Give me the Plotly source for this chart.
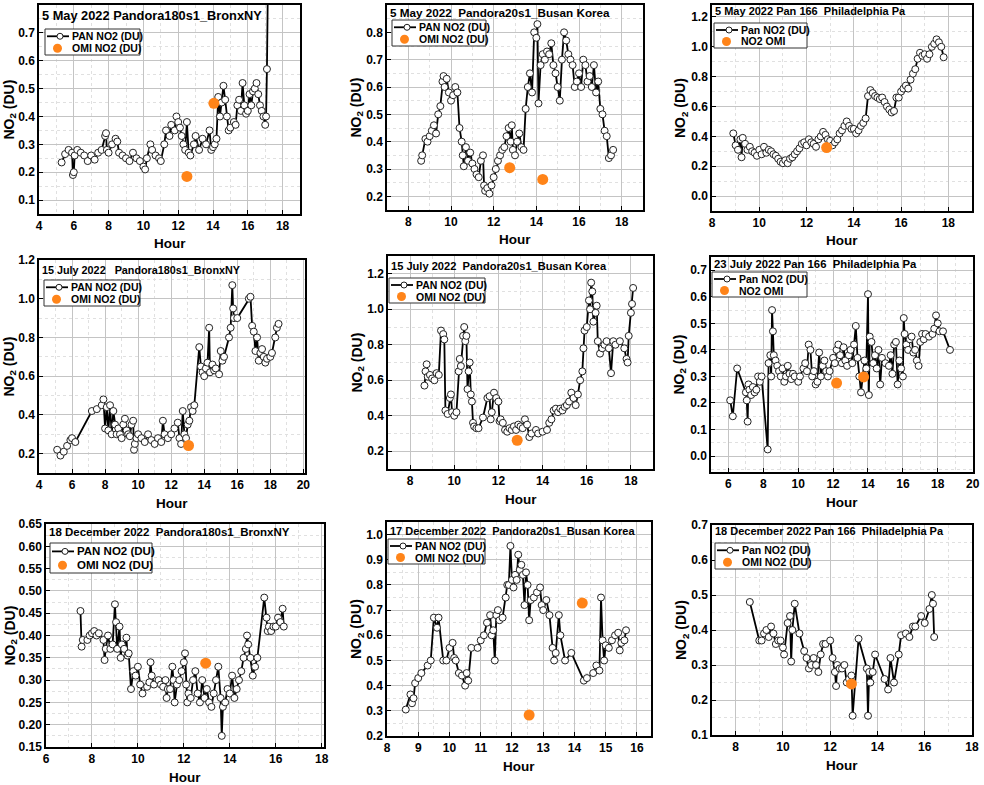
import plotly.graph_objects as go

W, H = 984, 785

# ---- Pandora (hour, NO2 DU) and OMI overpass values ----
may_bronx_pan = [
    (5.3, 0.235), (5.5, 0.265), (5.7, 0.28), (5.9, 0.27), (5.95, 0.19), (6.0, 0.2), (6.05, 0.26),
    (6.2, 0.28), (6.4, 0.27), (6.6, 0.26), (6.8, 0.24), (7.0, 0.26), (7.2, 0.245), (7.4, 0.27),
    (7.6, 0.28), (7.8, 0.33), (7.85, 0.34), (7.9, 0.28), (8.0, 0.27), (8.2, 0.3), (8.4, 0.32),
    (8.5, 0.31), (8.6, 0.27), (8.8, 0.26), (9.0, 0.25), (9.2, 0.24), (9.4, 0.27), (9.6, 0.25),
    (9.8, 0.24), (10.0, 0.22), (10.1, 0.21), (10.2, 0.25), (10.4, 0.3), (10.5, 0.28), (10.7, 0.26),
    (10.9, 0.25), (11.0, 0.24), (11.2, 0.3), (11.3, 0.35), (11.5, 0.33), (11.6, 0.37), (11.8, 0.35),
    (11.9, 0.4), (12.0, 0.38), (12.1, 0.36), (12.2, 0.33), (12.3, 0.3), (12.4, 0.28), (12.5, 0.38),
    (12.6, 0.27), (12.7, 0.26), (12.9, 0.3), (13.0, 0.33), (13.2, 0.28), (13.4, 0.32), (13.6, 0.3),
    (13.8, 0.35), (13.9, 0.28), (14.0, 0.29), (14.1, 0.3), (14.2, 0.32), (14.3, 0.47), (14.4, 0.4),
    (14.5, 0.45), (14.6, 0.51), (14.7, 0.46), (14.8, 0.4), (14.9, 0.35), (15.0, 0.36), (15.2, 0.38),
    (15.3, 0.37), (15.4, 0.44), (15.5, 0.46), (15.6, 0.42), (15.7, 0.52), (15.8, 0.44), (15.9, 0.41),
    (16.0, 0.42), (16.1, 0.48), (16.2, 0.44), (16.3, 0.49), (16.4, 0.5), (16.5, 0.52), (16.6, 0.48),
    (16.7, 0.44), (16.8, 0.42), (16.9, 0.4), (17.0, 0.37), (17.05, 0.4), (17.1, 0.57), (17.15, 0.85),
]
may_bronx_omi = [(12.5, 0.185), (14.05, 0.447)]

may_busan_pan = [
    (8.6, 0.33), (8.65, 0.35), (8.8, 0.41), (8.9, 0.4), (9.0, 0.42), (9.1, 0.44), (9.2, 0.46),
    (9.3, 0.43), (9.4, 0.5), (9.5, 0.53), (9.6, 0.62), (9.65, 0.64), (9.7, 0.6), (9.8, 0.63),
    (9.9, 0.58), (10.0, 0.55), (10.1, 0.57), (10.2, 0.6), (10.3, 0.58), (10.4, 0.45), (10.5, 0.4),
    (10.55, 0.35), (10.6, 0.31), (10.7, 0.38), (10.8, 0.33), (10.9, 0.36), (11.0, 0.32), (11.1, 0.3),
    (11.2, 0.28), (11.3, 0.27), (11.4, 0.33), (11.5, 0.35), (11.55, 0.24), (11.6, 0.22), (11.7, 0.23),
    (11.8, 0.21), (11.9, 0.24), (12.0, 0.27), (12.1, 0.3), (12.2, 0.33), (12.3, 0.35), (12.4, 0.37),
    (12.5, 0.38), (12.6, 0.42), (12.7, 0.45), (12.8, 0.4), (12.85, 0.46), (12.9, 0.37), (13.0, 0.35),
    (13.1, 0.4), (13.2, 0.43), (13.3, 0.38), (13.4, 0.37), (13.5, 0.52), (13.6, 0.6), (13.7, 0.65),
    (13.8, 0.58), (13.9, 0.8), (14.0, 0.78), (14.05, 0.83), (14.1, 0.54), (14.2, 0.68), (14.3, 0.72),
    (14.4, 0.7), (14.5, 0.73), (14.6, 0.72), (14.7, 0.76), (14.8, 0.68), (14.9, 0.65), (15.0, 0.6),
    (15.1, 0.55), (15.2, 0.7), (15.3, 0.8), (15.4, 0.77), (15.5, 0.72), (15.6, 0.7), (15.7, 0.68),
    (15.8, 0.6), (15.9, 0.62), (16.0, 0.65), (16.1, 0.6), (16.2, 0.7), (16.3, 0.68), (16.4, 0.62),
    (16.5, 0.64), (16.6, 0.6), (16.7, 0.68), (16.8, 0.58), (16.9, 0.62), (17.0, 0.52), (17.1, 0.5),
    (17.2, 0.44), (17.3, 0.42), (17.4, 0.34), (17.5, 0.35), (17.6, 0.37),
]
may_busan_omi = [(12.75, 0.305), (14.3, 0.262)]

may_philly_pan = [
    (8.9, 0.42), (9.0, 0.34), (9.1, 0.31), (9.2, 0.38), (9.25, 0.26), (9.3, 0.39), (9.4, 0.35),
    (9.5, 0.31), (9.6, 0.33), (9.7, 0.3), (9.8, 0.29), (9.9, 0.27), (10.0, 0.31), (10.1, 0.28),
    (10.2, 0.33), (10.3, 0.29), (10.4, 0.31), (10.5, 0.3), (10.6, 0.28), (10.7, 0.27), (10.8, 0.25),
    (10.9, 0.23), (11.0, 0.22), (11.1, 0.24), (11.2, 0.22), (11.3, 0.25), (11.4, 0.26), (11.5, 0.28),
    (11.6, 0.3), (11.7, 0.32), (11.8, 0.35), (11.9, 0.36), (12.0, 0.34), (12.1, 0.38), (12.2, 0.36),
    (12.3, 0.35), (12.4, 0.33), (12.5, 0.38), (12.6, 0.4), (12.7, 0.43), (12.8, 0.41), (12.9, 0.38),
    (13.0, 0.37), (13.1, 0.34), (13.2, 0.36), (13.3, 0.38), (13.4, 0.42), (13.5, 0.44), (13.6, 0.47),
    (13.7, 0.5), (13.8, 0.47), (13.9, 0.45), (14.0, 0.45), (14.1, 0.42), (14.2, 0.44), (14.3, 0.47),
    (14.4, 0.49), (14.5, 0.52), (14.6, 0.67), (14.7, 0.71), (14.8, 0.69), (14.9, 0.67), (15.0, 0.66),
    (15.1, 0.65), (15.2, 0.66), (15.3, 0.63), (15.4, 0.6), (15.5, 0.58), (15.6, 0.56), (15.7, 0.57),
    (15.8, 0.66), (15.9, 0.66), (16.0, 0.7), (16.1, 0.72), (16.2, 0.74), (16.3, 0.72), (16.4, 0.78),
    (16.5, 0.82), (16.6, 0.85), (16.7, 0.92), (16.8, 0.96), (16.9, 0.94), (17.0, 0.95), (17.1, 0.92),
    (17.2, 0.95), (17.3, 1.0), (17.4, 1.02), (17.5, 1.05), (17.6, 1.03), (17.7, 1.0), (17.8, 0.93),
]
may_philly_omi = [(12.85, 0.325)]

jul_bronx_pan = [
    (5.1, 0.22), (5.3, 0.19), (5.5, 0.21), (5.7, 0.24), (5.9, 0.27), (6.0, 0.28), (6.2, 0.26),
    (7.2, 0.42), (7.5, 0.43), (7.8, 0.45), (7.9, 0.48), (8.0, 0.33), (8.1, 0.44), (8.2, 0.32),
    (8.3, 0.45), (8.4, 0.3), (8.5, 0.42), (8.6, 0.35), (8.7, 0.3), (8.8, 0.33), (8.9, 0.3),
    (9.0, 0.28), (9.1, 0.35), (9.2, 0.38), (9.3, 0.32), (9.4, 0.3), (9.5, 0.29), (9.6, 0.35),
    (9.7, 0.37), (9.75, 0.22), (9.8, 0.25), (9.9, 0.28), (10.0, 0.3), (10.2, 0.28), (10.4, 0.26),
    (10.6, 0.3), (10.8, 0.27), (11.0, 0.25), (11.2, 0.28), (11.4, 0.26), (11.5, 0.37), (11.6, 0.3),
    (11.8, 0.28), (12.0, 0.3), (12.2, 0.33), (12.4, 0.36), (12.5, 0.28), (12.6, 0.25), (12.7, 0.42),
    (12.8, 0.3), (12.9, 0.28), (13.0, 0.35), (13.1, 0.37), (13.2, 0.44), (13.3, 0.42), (13.4, 0.45),
    (13.7, 0.75), (13.8, 0.65), (13.9, 0.62), (14.0, 0.6), (14.1, 0.64), (14.2, 0.67), (14.3, 0.85),
    (14.35, 0.62), (14.5, 0.66), (14.6, 0.63), (14.7, 0.64), (14.9, 0.61), (15.0, 0.73), (15.1, 0.68),
    (15.2, 0.7), (15.5, 0.8), (15.6, 0.85), (15.7, 1.07), (15.75, 0.95), (15.8, 0.9), (16.0, 0.9),
    (16.7, 1.0), (16.8, 1.01), (16.9, 0.86), (17.0, 0.83), (17.1, 0.73), (17.2, 0.8), (17.3, 0.68),
    (17.4, 0.72), (17.5, 0.74), (17.6, 0.7), (17.7, 0.67), (17.8, 0.69), (18.0, 0.7), (18.1, 0.72),
    (18.3, 0.8), (18.4, 0.85), (18.5, 0.87),
]
jul_bronx_omi = [(13.05, 0.242)]

jul_busan_pan = [
    (8.65, 0.57), (8.7, 0.65), (8.75, 0.69), (8.8, 0.62), (8.9, 0.63), (9.0, 0.61), (9.1, 0.6),
    (9.2, 0.64), (9.3, 0.63), (9.4, 0.88), (9.5, 0.86), (9.55, 0.83), (9.6, 0.43), (9.7, 0.41),
    (9.8, 0.5), (9.85, 0.52), (9.9, 0.42), (10.0, 0.4), (10.1, 0.42), (10.2, 0.65), (10.25, 0.72),
    (10.3, 0.68), (10.4, 0.85), (10.45, 0.9), (10.5, 0.82), (10.55, 0.85), (10.6, 0.55), (10.65, 0.65),
    (10.7, 0.7), (10.75, 0.52), (10.8, 0.48), (10.85, 0.36), (10.9, 0.34), (11.0, 0.33), (11.1, 0.33),
    (11.3, 0.39), (11.5, 0.5), (11.6, 0.51), (11.65, 0.38), (11.7, 0.42), (11.8, 0.53), (11.9, 0.5),
    (12.0, 0.48), (12.05, 0.37), (12.1, 0.38), (12.2, 0.36), (12.3, 0.32), (12.4, 0.31), (12.5, 0.33),
    (12.6, 0.32), (12.7, 0.34), (12.8, 0.32), (12.9, 0.35), (13.0, 0.34), (13.1, 0.33), (13.2, 0.38),
    (13.3, 0.35), (13.4, 0.28), (13.5, 0.3), (13.7, 0.32), (13.8, 0.3), (14.0, 0.31), (14.2, 0.32),
    (14.3, 0.36), (14.4, 0.38), (14.5, 0.43), (14.6, 0.44), (14.7, 0.42), (14.8, 0.44), (14.9, 0.43),
    (15.0, 0.45), (15.1, 0.46), (15.2, 0.48), (15.3, 0.53), (15.4, 0.5), (15.5, 0.46), (15.6, 0.52),
    (15.7, 0.6), (15.8, 0.65), (15.85, 0.78), (15.9, 0.88), (16.0, 0.9), (16.1, 1.05), (16.15, 1.0),
    (16.2, 1.15), (16.25, 1.1), (16.3, 0.93), (16.4, 0.98), (16.45, 1.02), (16.5, 0.82), (16.6, 0.75),
    (16.7, 0.78), (16.8, 0.8), (16.9, 0.82), (17.0, 0.78), (17.1, 0.64), (17.2, 0.82), (17.3, 0.8),
    (17.5, 0.82), (17.7, 0.78), (17.8, 0.72), (17.85, 0.7), (17.9, 0.85), (18.0, 0.98), (18.05, 1.03),
    (18.1, 1.12),
]
jul_busan_omi = [(12.85, 0.262)]

jul_philly_pan = [
    (6.1, 0.21), (6.25, 0.15), (6.5, 0.33), (7.0, 0.24), (7.05, 0.21), (7.1, 0.13), (7.15, 0.27),
    (7.2, 0.25), (7.3, 0.23), (7.4, 0.26), (7.5, 0.24), (7.6, 0.25), (7.7, 0.3), (7.8, 0.28),
    (7.9, 0.3), (8.25, 0.025), (8.3, 0.35), (8.4, 0.38), (8.45, 0.3), (8.5, 0.55), (8.55, 0.47),
    (8.6, 0.38), (8.7, 0.36), (8.8, 0.34), (8.9, 0.32), (9.0, 0.3), (9.1, 0.33), (9.2, 0.28),
    (9.3, 0.3), (9.4, 0.34), (9.5, 0.31), (9.6, 0.29), (9.7, 0.31), (9.8, 0.3), (10.0, 0.28),
    (10.1, 0.3), (10.3, 0.33), (10.4, 0.35), (10.5, 0.32), (10.6, 0.42), (10.7, 0.4), (10.8, 0.3),
    (10.9, 0.32), (11.0, 0.27), (11.1, 0.28), (11.2, 0.39), (11.3, 0.3), (11.4, 0.34), (11.5, 0.36),
    (11.6, 0.32), (11.7, 0.3), (11.8, 0.32), (12.0, 0.37), (12.1, 0.35), (12.2, 0.4), (12.3, 0.42),
    (12.4, 0.38), (12.5, 0.35), (12.6, 0.41), (12.7, 0.36), (12.8, 0.34), (12.9, 0.38), (13.0, 0.4),
    (13.1, 0.35), (13.2, 0.42), (13.3, 0.49), (13.4, 0.37), (13.5, 0.3), (13.6, 0.24), (13.7, 0.3),
    (13.8, 0.36), (13.9, 0.33), (14.0, 0.61), (14.05, 0.23), (14.1, 0.45), (14.2, 0.43), (14.3, 0.35),
    (14.4, 0.38), (14.5, 0.33), (14.6, 0.4), (14.7, 0.27), (14.8, 0.37), (15.0, 0.35), (15.2, 0.34),
    (15.3, 0.38), (15.4, 0.31), (15.5, 0.42), (15.6, 0.43), (15.7, 0.27), (15.8, 0.36), (15.9, 0.33),
    (16.0, 0.3), (16.05, 0.52), (16.1, 0.46), (16.2, 0.42), (16.3, 0.4), (16.4, 0.44), (16.5, 0.45),
    (16.6, 0.39), (16.7, 0.4), (16.8, 0.36), (16.9, 0.34), (17.0, 0.43), (17.1, 0.46), (17.2, 0.44),
    (17.3, 0.46), (17.5, 0.45), (17.7, 0.46), (17.8, 0.48), (17.9, 0.53), (18.0, 0.5), (18.1, 0.47),
    (18.3, 0.47), (18.7, 0.4),
]
jul_philly_omi = [(12.2, 0.275), (13.75, 0.298)]

dec_bronx_pan = [
    (7.5, 0.455), (7.55, 0.375), (7.6, 0.39), (7.8, 0.39), (7.9, 0.4), (8.0, 0.405), (8.1, 0.41),
    (8.2, 0.4), (8.3, 0.405), (8.5, 0.39), (8.55, 0.345), (8.6, 0.37), (8.7, 0.4), (8.8, 0.37),
    (8.9, 0.38), (9.0, 0.47), (9.05, 0.43), (9.1, 0.37), (9.2, 0.42), (9.25, 0.35), (9.3, 0.38),
    (9.4, 0.37), (9.5, 0.395), (9.55, 0.355), (9.6, 0.36), (9.7, 0.28), (9.8, 0.32), (9.9, 0.31),
    (10.0, 0.33), (10.1, 0.29), (10.2, 0.27), (10.4, 0.285), (10.5, 0.295), (10.55, 0.34), (10.6, 0.31),
    (10.7, 0.29), (10.9, 0.3), (11.0, 0.29), (11.1, 0.285), (11.2, 0.3), (11.25, 0.26), (11.3, 0.28),
    (11.4, 0.28), (11.5, 0.33), (11.55, 0.3), (11.6, 0.25), (11.7, 0.29), (11.8, 0.3), (11.9, 0.32),
    (12.0, 0.34), (12.05, 0.36), (12.1, 0.29), (12.15, 0.25), (12.2, 0.27), (12.3, 0.26), (12.4, 0.3),
    (12.5, 0.32), (12.6, 0.27), (12.7, 0.25), (12.8, 0.3), (12.9, 0.26), (13.0, 0.28), (13.1, 0.25),
    (13.2, 0.24), (13.3, 0.27), (13.4, 0.3), (13.5, 0.33), (13.6, 0.26), (13.65, 0.175), (13.7, 0.24),
    (13.8, 0.25), (13.9, 0.28), (14.0, 0.27), (14.1, 0.31), (14.2, 0.26), (14.3, 0.28), (14.4, 0.3),
    (14.5, 0.32), (14.6, 0.35), (14.7, 0.37), (14.75, 0.4), (14.8, 0.38), (14.9, 0.35), (15.0, 0.31),
    (15.1, 0.33), (15.2, 0.35), (15.5, 0.485), (15.6, 0.44), (15.65, 0.41), (15.7, 0.42), (15.8, 0.41),
    (15.9, 0.42), (16.0, 0.42), (16.1, 0.44), (16.2, 0.43), (16.3, 0.46), (16.35, 0.42),
]
dec_bronx_omi = [(12.95, 0.338)]

dec_busan_pan = [
    (8.6, 0.305), (8.75, 0.365), (8.8, 0.33), (8.85, 0.35), (8.9, 0.41), (9.0, 0.43), (9.1, 0.45),
    (9.3, 0.48), (9.4, 0.5), (9.5, 0.67), (9.6, 0.63), (9.65, 0.67), (9.8, 0.5), (9.9, 0.5),
    (10.0, 0.55), (10.1, 0.57), (10.15, 0.51), (10.2, 0.5), (10.3, 0.45), (10.4, 0.44), (10.5, 0.4),
    (10.55, 0.45), (10.6, 0.42), (10.7, 0.55), (10.9, 0.55), (11.0, 0.58), (11.1, 0.6), (11.2, 0.65),
    (11.3, 0.68), (11.35, 0.6), (11.4, 0.62), (11.45, 0.5), (11.5, 0.68), (11.55, 0.7), (11.6, 0.66),
    (11.7, 0.67), (11.8, 0.75), (11.85, 0.8), (11.9, 0.8), (11.95, 0.955), (12.0, 0.82), (12.05, 0.79),
    (12.1, 0.84), (12.15, 0.82), (12.2, 0.92), (12.25, 0.86), (12.3, 0.88), (12.35, 0.84), (12.4, 0.72),
    (12.45, 0.85), (12.5, 0.8), (12.55, 0.66), (12.6, 0.74), (12.7, 0.75), (12.8, 0.77), (12.9, 0.79),
    (12.95, 0.72), (13.0, 0.7), (13.1, 0.74), (13.2, 0.68), (13.3, 0.55), (13.35, 0.5), (13.4, 0.53),
    (13.5, 0.68), (13.55, 0.6), (13.7, 0.5), (13.9, 0.53), (14.3, 0.42), (14.4, 0.43), (14.6, 0.45),
    (14.7, 0.48), (14.8, 0.46), (14.85, 0.75), (14.9, 0.58), (14.95, 0.5), (15.0, 0.56), (15.1, 0.55),
    (15.2, 0.58), (15.3, 0.6), (15.4, 0.61), (15.45, 0.54), (15.5, 0.57), (15.6, 0.58), (15.65, 0.62),
]
dec_busan_omi = [(12.55, 0.283), (14.25, 0.728)]

dec_philly_pan = [
    (8.6, 0.48), (9.0, 0.37), (9.1, 0.37), (9.2, 0.39), (9.3, 0.4), (9.4, 0.38), (9.5, 0.41),
    (9.6, 0.39), (9.7, 0.36), (9.8, 0.37), (9.9, 0.37), (10.0, 0.35), (10.05, 0.33), (10.2, 0.42),
    (10.3, 0.44), (10.35, 0.31), (10.4, 0.4), (10.5, 0.475), (10.7, 0.39), (10.9, 0.34), (11.0, 0.32),
    (11.1, 0.29), (11.2, 0.3), (11.3, 0.32), (11.4, 0.3), (11.5, 0.28), (11.6, 0.33), (11.7, 0.36),
    (11.8, 0.36), (12.0, 0.37), (12.1, 0.32), (12.2, 0.28), (12.25, 0.24), (12.3, 0.3), (12.4, 0.29),
    (12.5, 0.29), (12.6, 0.3), (12.7, 0.25), (12.8, 0.26), (12.9, 0.27), (12.95, 0.155), (13.2, 0.375),
    (13.55, 0.29), (13.6, 0.155), (13.65, 0.28), (13.7, 0.25), (13.8, 0.28), (13.9, 0.33), (14.3, 0.26),
    (14.45, 0.23), (14.55, 0.32), (14.7, 0.25), (14.9, 0.33), (15.0, 0.385), (15.2, 0.39), (15.35, 0.38),
    (15.5, 0.41), (15.6, 0.41), (15.85, 0.44), (16.0, 0.42), (16.2, 0.46), (16.3, 0.5), (16.35, 0.475),
    (16.4, 0.38),
]
dec_philly_omi = [(12.9, 0.246)]

titles = [
    "5 May 2022 Pandora180s1_BronxNY",
    "5 May 2022  Pandora20s1_Busan Korea",
    "5 May 2022 Pan 166  Philadelphia Pa",
    "15 July 2022   Pandora180s1_BronxNY",
    "15 July 2022  Pandora20s1_Busan Korea",
    "23 July 2022 Pan 166  Philadelphia Pa",
    "18 December 2022  Pandora180s1_BronxNY",
    "17 December 2022  Pandora20s1_Busan Korea",
    "18 December 2022 Pan 166  Philadelphia Pa",
]
pan_names = ["PAN NO2 (DU)", "PAN NO2 (DU)", "Pan NO2 (DU)",
             "PAN NO2 (DU)", "PAN NO2 (DU)", "Pan NO2 (DU)",
             "PAN NO2 (DU)", "PAN NO2 (DU)", "Pan NO2 (DU)"]
omi_names = ["OMI NO2 (DU)", "OMI NO2 (DU)", "NO2 OMI",
             "OMI NO2 (DU)", "OMI NO2 (DU)", "NO2 OMI",
             "OMI NO2 (DU)", "OMI NO2 (DU)", "OMI NO2 (DU)"]

pan_data = [may_bronx_pan, may_busan_pan, may_philly_pan, jul_bronx_pan, jul_busan_pan,
            jul_philly_pan, dec_bronx_pan, dec_busan_pan, dec_philly_pan]
omi_data = [may_bronx_omi, may_busan_omi, may_philly_omi, jul_bronx_omi, jul_busan_omi,
            jul_philly_omi, dec_bronx_omi, dec_busan_omi, dec_philly_omi]

ORANGE = "#FF8419"

# panel layout: plot box in pixels (left, right, top, bottom), axis ranges/ticks,
# legend box in pixels (left, top, width, height), title size / offset, y-title x position
layout_spec = [
    dict(box=(39, 300, 5, 214), xr=[4, 19], x0=4, dx=2, yr=[0.05, 0.8], dy=0.1, fmt=".1f",
         leg=(45, 29, 95, 26), ts=12.8, tdy=10, ytx=10),
    dict(box=(387, 643, 5, 210), xr=[7, 19], x0=8, dx=2, yr=[0.15, 0.9], dy=0.1, fmt=".1f",
         leg=(392, 20, 94, 26), ts=11.7, tdy=7, ytx=357),
    dict(box=(712, 972, 5, 211), xr=[8, 19], x0=8, dx=2, yr=[-0.1, 1.28], dy=0.2, fmt=".1f",
         leg=(714, 23, 93, 25), ts=11.0, tdy=6, ytx=681),
    dict(box=(39, 305, 260, 473), xr=[4, 20.1], x0=4, dx=2, yr=[0.1, 1.2], dy=0.2, fmt=".1f",
         leg=(44, 280, 96, 26), ts=10.8, tdy=10, ytx=10),
    dict(box=(388, 653, 256, 469), xr=[7, 19], x0=8, dx=2, yr=[0.1, 1.3], dy=0.2, fmt=".1f",
         leg=(389, 278, 96, 25), ts=11.1, tdy=10, ytx=358),
    dict(box=(711, 973, 257, 472), xr=[5, 20.02], x0=6, dx=2, yr=[-0.06, 0.75], dy=0.1, fmt=".1f",
         leg=(712, 272, 95, 25), ts=11.3, tdy=7, ytx=680),
    dict(box=(46, 324, 524, 747), xr=[6, 18.1], x0=6, dx=2, yr=[0.15, 0.65], dy=0.05, fmt=".2f",
         leg=(50, 543, 102, 30), ts=11.5, tdy=8, ytx=10),
    dict(box=(387, 651, 522, 736), xr=[8, 16.45], x0=8, dx=1, yr=[0.2, 1.05], dy=0.1, fmt=".1f",
         leg=(388, 539, 97, 25), ts=11.0, tdy=9, ytx=357),
    dict(box=(712, 972, 525, 735), xr=[7, 18], x0=8, dx=2, yr=[0.1, 0.7], dy=0.1, fmt=".1f",
         leg=(715, 543, 93, 26), ts=11.0, tdy=6, ytx=682),
]


def px(x):
    return x / W


def py(y):
    return 1 - y / H


fig = go.Figure()
annotations = []
shapes = []

for i in range(9):
    sfx = "" if i == 0 else str(i + 1)
    spec = layout_spec[i]
    hx = [p[0] for p in pan_data[i]]
    hy = [p[1] for p in pan_data[i]]
    ox = [p[0] for p in omi_data[i]]
    oy = [p[1] for p in omi_data[i]]

    fig.add_trace(go.Scatter(
        x=hx, y=hy, mode="lines+markers", name=pan_names[i], showlegend=False,
        line=dict(color="black", width=1.8),
        marker=dict(symbol="circle", size=7, color="white", line=dict(color="#222222", width=1)),
        xaxis="x" + sfx, yaxis="y" + sfx,
    ))
    fig.add_trace(go.Scatter(
        x=ox, y=oy, mode="markers", name=omi_names[i], showlegend=False,
        marker=dict(symbol="circle", size=11, color=ORANGE),
        xaxis="x" + sfx, yaxis="y" + sfx,
    ))

    l, r, t, b = spec["box"]
    common = dict(
        showline=True, linecolor="black", linewidth=1.5, mirror=True,
        ticks="inside", ticklen=4, tickwidth=1.2, tickcolor="black",
        showgrid=True, gridcolor="#c4c4c4", gridwidth=1,
        zeroline=False, automargin=False,
        tickfont=dict(size=12),
    )
    fig.update_layout(**{
        "xaxis" + sfx: dict(
            domain=[px(l), px(r)], anchor="y" + sfx, range=spec["xr"],
            tick0=spec["x0"], dtick=spec["dx"],
            minor=dict(dtick=spec["dx"] / 2, showgrid=True, gridcolor="#e0e0e0", griddash="dot"),
            **common),
        "yaxis" + sfx: dict(
            domain=[py(b), py(t)], anchor="x" + sfx, range=spec["yr"],
            tick0=0, dtick=spec["dy"], tickformat=spec["fmt"],
            minor=dict(dtick=spec["dy"] / 2, showgrid=True, gridcolor="#e0e0e0", griddash="dot"),
            **common),
    })

    xd = "x" + sfx + " domain"
    yd = "y" + sfx + " domain"
    annotations.append(dict(
        text=titles[i], xref=xd, yref=yd, x=0, y=1, xanchor="left", yanchor="middle",
        xshift=1, yshift=-spec["tdy"], showarrow=False, font=dict(size=spec["ts"]),
    ))
    annotations.append(dict(
        text="Hour", xref=xd, yref=yd, x=0.5, y=0, xanchor="center", yanchor="middle",
        yshift=-30, showarrow=False, font=dict(size=13.5),
    ))
    annotations.append(dict(
        text="NO<sub>2</sub> (DU)", xref=xd, yref=yd, x=0, y=0.5, xanchor="center",
        yanchor="middle", xshift=spec["ytx"] - l, textangle=-90, showarrow=False,
        font=dict(size=14),
    ))

    # Origin-style legend box drawn in pixel space
    lx, ly, lw, lh = spec["leg"]
    r1 = ly + lh * 0.28
    r2 = ly + lh * 0.74
    fs = 10.5 if lh < 28 else 11.5
    shapes.append(dict(type="rect", xref="paper", yref="paper",
                       x0=px(lx), x1=px(lx + lw), y0=py(ly + lh), y1=py(ly),
                       line=dict(color="#333333", width=1), fillcolor="white", layer="above"))
    shapes.append(dict(type="line", xref="paper", yref="paper",
                       x0=px(lx + 2), x1=px(lx + 24), y0=py(r1), y1=py(r1),
                       line=dict(color="black", width=1.8), layer="above"))
    shapes.append(dict(type="circle", xref="paper", yref="paper",
                       x0=px(lx + 12), x1=px(lx + 18), y0=py(r1 + 3), y1=py(r1 - 3),
                       line=dict(color="#222222", width=1), fillcolor="white", layer="above"))
    shapes.append(dict(type="circle", xref="paper", yref="paper",
                       x0=px(lx + 8), x1=px(lx + 17), y0=py(r2 + 4.5), y1=py(r2 - 4.5),
                       line=dict(color=ORANGE, width=0), fillcolor=ORANGE, layer="above"))
    annotations.append(dict(text=pan_names[i], xref="paper", yref="paper",
                            x=px(lx + 25), y=py(r1), xanchor="left", yanchor="middle",
                            showarrow=False, font=dict(size=fs)))
    annotations.append(dict(text=omi_names[i], xref="paper", yref="paper",
                            x=px(lx + 25), y=py(r2), xanchor="left", yanchor="middle",
                            showarrow=False, font=dict(size=fs)))

fig.update_layout(
    width=W, height=H,
    margin=dict(l=0, r=0, t=0, b=0),
    paper_bgcolor="white", plot_bgcolor="white",
    font=dict(family="Liberation Sans, Arial, sans-serif", color="black", weight="bold"),
    annotations=annotations,
    shapes=shapes,
    showlegend=False,
)

fig.write_html("out.html", config={"displayModeBar": False},
               post_script="document.body.style.margin='0px';")
